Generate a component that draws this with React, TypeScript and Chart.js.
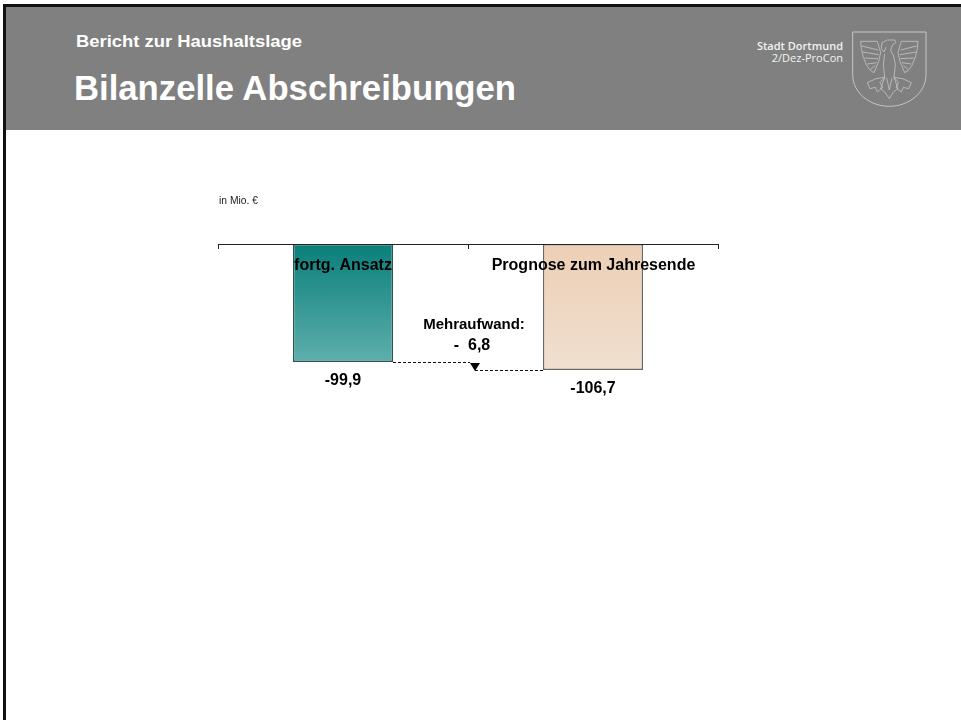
import React, { useEffect, useRef } from "react";
import { Chart, registerables } from "chart.js";

Chart.register(...registerables);

const categories = ["fortg. Ansatz", "Prognose zum Jahresende"];
const values = [-99.9, -106.7];
const valueLabels = ["-99,9", "-106,7"];
const deltaLabels = ["Mehraufwand:", "-  6,8"];
const unitLabel = "in Mio. €";
const subtitle = "Bericht zur Haushaltslage";
const title = "Bilanzelle Abschreibungen";
const orgLabels = ["Stadt Dortmund", "2/Dez-ProCon"];
const gradients = [
  ["#0a7f7b", "#5eafac"],
  ["#edcfb5", "#f0dfcf"],
];
const borders = ["#2a5554", "#6a6662"];

const FONT = '"Liberation Sans", Arial, sans-serif';

const annotate = {
  id: "annotate",
  afterDatasetsDraw(chart: any) {
    const { ctx, scales } = chart;
    const x = scales.x;
    const y = scales.y;
    const top = y.getPixelForValue(0);
    const step = x.getPixelForValue(1) - x.getPixelForValue(0);
    const x0 = x.getPixelForValue(0);
    const x1 = x.getPixelForValue(1);
    const y0 = Math.round(y.getPixelForValue(values[0])) + 0.5;
    const y1 = Math.round(y.getPixelForValue(values[1])) + 0.5;
    const bar = step * 0.2;
    const mid = x0 + step / 2 + 7;
    ctx.save();

    // axis line with tick marks on the category boundaries
    ctx.strokeStyle = "#222";
    ctx.lineWidth = 1;
    ctx.beginPath();
    ctx.moveTo(x0 - step / 2, top + 0.5);
    ctx.lineTo(x1 + step / 2, top + 0.5);
    [x0 - step / 2, x0 + step / 2, x1 + step / 2].forEach((p) => {
      const px = Math.round(p) + 0.5;
      ctx.moveTo(px, top);
      ctx.lineTo(px, top + 5);
    });
    ctx.stroke();

    // dashed connectors
    ctx.strokeStyle = "#111";
    ctx.setLineDash([3, 2]);
    ctx.beginPath();
    ctx.moveTo(x0 + bar, y0);
    ctx.lineTo(mid - 5, y0);
    ctx.moveTo(mid, y1);
    ctx.lineTo(x1 - bar, y1);
    ctx.stroke();
    ctx.setLineDash([]);

    // arrow head
    ctx.fillStyle = "#000";
    ctx.beginPath();
    ctx.moveTo(mid - 5, y0 + 0.5);
    ctx.lineTo(mid + 5, y0 + 0.5);
    ctx.lineTo(mid, y1 + 0.5);
    ctx.closePath();
    ctx.fill();

    // texts
    ctx.fillStyle = "#000";
    ctx.textAlign = "center";
    ctx.textBaseline = "middle";
    ctx.font = `bold 16px ${FONT}`;
    ctx.fillText(categories[0], x0, top + 22);
    ctx.fillText(categories[1], x1 + 0.5, top + 22);
    ctx.fillText(valueLabels[0], x0, y0 + 18);
    ctx.fillText(valueLabels[1], x1, y1 + 18);
    ctx.fillText(deltaLabels[1], mid - 3, y0 - 17);
    ctx.font = `bold 15px ${FONT}`;
    ctx.fillText(deltaLabels[0], mid - 1, y0 - 38);

    ctx.font = `10.3px ${FONT}`;
    ctx.fillStyle = "#222";
    ctx.textAlign = "left";
    ctx.fillText(unitLabel, x0 - step / 2 + 1, top - 43);
    ctx.restore();
  },
};

function Crest() {
  return (
    <svg
      width={80}
      height={82}
      viewBox="0 0 240 246"
      style={{ position: "absolute", left: 850, top: 28 }}
      fill="none"
      stroke="#c6c6c6"
      strokeWidth={2.4}
    >
      <path d="M8 12H228V140C228 195 175 235 118 235C60 235 8 195 8 140Z" strokeWidth={3} />
      {/* head */}
      <path d="M96 44L112 36L134 36L138 44L128 50L122 66L128 80M96 44L94 62L102 72L108 58" />
      {/* left wing */}
      <path d="M32 40H82L92 74L86 100L72 134L62 128L50 112L40 88L34 62Z" />
      <path d="M36 54L84 66M38 72L86 80M43 90L84 92M52 108L80 104M62 124L76 112" />
      {/* right wing */}
      <path d="M204 40H154L144 74L150 100L164 134L174 128L186 112L196 88L202 62Z" />
      <path d="M200 54L152 66M198 72L150 80M193 90L152 92M184 108L156 104M174 124L160 112" />
      {/* body and tail */}
      <path d="M104 78L100 110L104 148L92 182L104 192L118 212L130 192L144 182L132 148L136 110L130 80" />
      <path d="M110 150L118 186L126 150" />
      {/* claws */}
      <path d="M104 148L78 152L52 164L60 182L76 178L82 192L98 178L90 164Z" />
      <path d="M132 148L158 152L184 164L176 182L160 178L154 192L138 178L146 164Z" />
    </svg>
  );
}

export default function App() {
  const ref = useRef<HTMLCanvasElement>(null);
  useEffect(() => {
    const fill = (c: any) => {
      const index = c.dataIndex ?? 0;
      const { ctx, scales, chartArea } = c.chart;
      const colors = gradients[index] ?? gradients[0];
      if (!chartArea || !scales.y) return colors[0];
      const from = scales.y.getPixelForValue(0);
      const to = scales.y.getPixelForValue(values[index]);
      if (!Number.isFinite(from) || !Number.isFinite(to)) return colors[0];
      const g = ctx.createLinearGradient(0, from, 0, to);
      g.addColorStop(0, colors[0]);
      g.addColorStop(1, colors[1]);
      return g;
    };
    const chart = new Chart(ref.current!, {
      type: "bar",
      data: {
        labels: categories,
        datasets: [
          {
            data: values,
            backgroundColor: fill,
            borderColor: borders,
            borderWidth: 1.4,
            borderSkipped: false,
            barPercentage: 0.4,
            categoryPercentage: 1,
          },
        ],
      },
      options: {
        animation: false,
        responsive: false,
        layout: { padding: { left: 218, right: 243, top: 244, bottom: 4 } },
        plugins: { legend: { display: false }, tooltip: { enabled: false } },
        scales: {
          x: { display: false },
          y: { display: false, min: -400, max: 0 },
        },
      },
      plugins: [annotate],
    } as any);
    return () => chart.destroy();
  }, []);

  return (
    <div style={{ position: "absolute", left: 0, top: 0, width: 961, height: 720, background: "#fff", overflow: "hidden" }}>
      <div style={{ position: "absolute", left: 3, top: 4, width: 3, height: 716, background: "#111" }} />
      <div style={{ position: "absolute", left: 3, top: 4, width: 958, height: 3, background: "#111" }} />
      <div style={{ position: "absolute", left: 6, top: 7, width: 955, height: 123, background: "#808080" }} />
      <div style={{ position: "absolute", left: 76, top: 33, color: "#fff", font: `bold 16px ${FONT}`, whiteSpace: "nowrap", transformOrigin: "0 50%", transform: "scaleX(1.15)" }}>{subtitle}</div>
      <div style={{ position: "absolute", left: 74, top: 68, color: "#fff", font: `bold 34.7px ${FONT}`, lineHeight: "40px", whiteSpace: "nowrap" }}>{title}</div>
      <div style={{ position: "absolute", right: 118, top: 40, color: "#f2f2f2", font: '600 11px "Open Sans", sans-serif', lineHeight: "12px", textAlign: "right", whiteSpace: "nowrap" }}>
        <div>{orgLabels[0]}</div>
        <div style={{ fontWeight: 400 }}>{orgLabels[1]}</div>
      </div>
      <Crest />
      <canvas ref={ref} width={961} height={720} style={{ position: "absolute", left: 0, top: 0 }} />
    </div>
  );
}
